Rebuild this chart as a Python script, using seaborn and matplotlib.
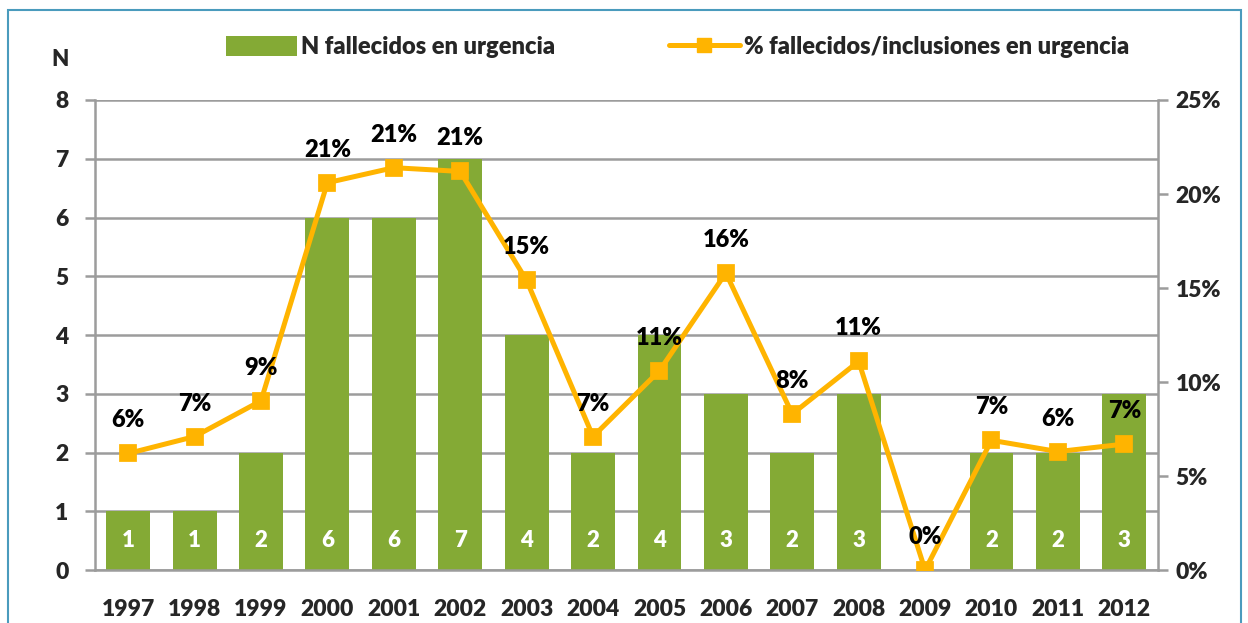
import numpy as np
import pandas as pd
import seaborn as sns
import matplotlib.pyplot as plt
from matplotlib.patches import Rectangle
from matplotlib.lines import Line2D
from matplotlib.ticker import FixedLocator, FuncFormatter

# Data
years = ["1997", "1998", "1999", "2000", "2001", "2002", "2003", "2004",
         "2005", "2006", "2007", "2008", "2009", "2010", "2011", "2012"]
n_deaths = [1, 1, 2, 6, 6, 7, 4, 2, 4, 3, 2, 3, 0, 2, 2, 3]
pct_deaths = [6.2, 7.1, 9.0, 20.6, 21.4, 21.2, 15.4, 7.1,
              10.6, 15.8, 8.3, 11.1, 0.0, 6.9, 6.3, 6.7]

bar_label = "N fallecidos en urgencia"
line_label = "% fallecidos/inclusiones en urgencia"

green = "#84aa35"
orange = "#ffb400"
grid_col = "#9c9c9c"
weight = "heavy"

df = pd.DataFrame({"year": years, "n": n_deaths, "pct": pct_deaths})

sns.set_style("white")
plt.rcParams["font.family"] = ["Lato", "DejaVu Sans"]
plt.rcParams["font.weight"] = weight

fig = plt.figure(figsize=(12.48, 6.23), dpi=100)
ax = fig.add_axes([0.0761, 0.085, 0.9275 - 0.0761, 0.8395 - 0.085])

sns.barplot(data=df, x="year", y="n", color=green, width=0.66,
            saturation=1, ax=ax, zorder=2, linewidth=0)
ax.set_ylim(0, 8)
ax.set_xlim(-0.5, len(years) - 0.5)
ax.set_yticks(range(0, 9))
ax.yaxis.grid(True, color=grid_col, lw=1.8, zorder=0)
ax.set_axisbelow(True)
ax.set_xlabel("")
ax.set_ylabel("")

# bar value labels inside bars
for i, v in enumerate(n_deaths):
    if v > 0:
        ax.text(i, 0.5, str(v), ha="center", va="center", color="white",
                fontsize=16, fontweight=weight, zorder=5)

ax2 = ax.twinx()
sns.pointplot(data=df, x="year", y="pct", color=orange, ax=ax2,
              markers="s", markersize=9.5, linewidth=3.6, zorder=4)
ax2.set_ylim(0, 25)
ax2.set_xlim(-0.5, len(years) - 0.5)
ax2.set_yticks(range(0, 26, 5))
ax2.yaxis.set_major_formatter(FuncFormatter(lambda v, p: f"{v:.0f}%"))
ax2.set_ylabel("")
ax2.set_xlabel("")

for i, v in enumerate(pct_deaths):
    ax2.annotate(f"{v:.0f}%", (i, v), xytext=(0, 33), textcoords="offset pixels",
                 ha="center", va="center", fontsize=17, fontweight=weight,
                 color="black", zorder=6)

# spines and ticks
for a in (ax, ax2):
    for s in a.spines.values():
        s.set_visible(False)
for s in (ax.spines["left"], ax.spines["bottom"], ax2.spines["right"]):
    s.set_visible(True)
    s.set_color(grid_col)
    s.set_linewidth(1.8)

ax.tick_params(axis="y", length=7, width=1.8, color=grid_col, pad=12,
               labelsize=16.5)
ax2.tick_params(axis="y", length=7, width=1.8, color=grid_col, pad=6,
                labelsize=16.5)
ax.xaxis.set_minor_locator(FixedLocator(np.arange(-0.5, len(years), 1)))
ax.tick_params(axis="x", which="major", length=0, pad=21, labelsize=16.5)
ax.tick_params(axis="x", which="minor", length=8, width=1.8, color=grid_col)
for lbl in ax.get_xticklabels() + ax.get_yticklabels() + ax2.get_yticklabels():
    lbl.set_fontweight(weight)

fig.text(60 / 1248, 1 - 60 / 623, "N", ha="center", va="center",
         fontsize=16, fontweight=weight)

handles = [
    Rectangle((0, 0), 1, 1, facecolor=green, edgecolor="none"),
    Line2D([], [], color=orange, lw=3.6, marker="s", markersize=9.5),
]
fig.legend(handles, [bar_label, line_label], loc="center",
           bbox_to_anchor=(0.543, 1 - 47 / 623), ncol=2, frameon=False,
           prop={"size": 17, "weight": weight}, handlelength=3.0,
           handletextpad=0.2, columnspacing=4.8, handleheight=0.9)

# outer light-blue frame
fig.patches.append(Rectangle((8 / 1248, -0.05), (1241 - 8) / 1248,
                             1.05 - 10 / 623, transform=fig.transFigure,
                             fill=False, edgecolor="#4a9bbd", lw=1.5))

fig.savefig("out.png", dpi=100)
